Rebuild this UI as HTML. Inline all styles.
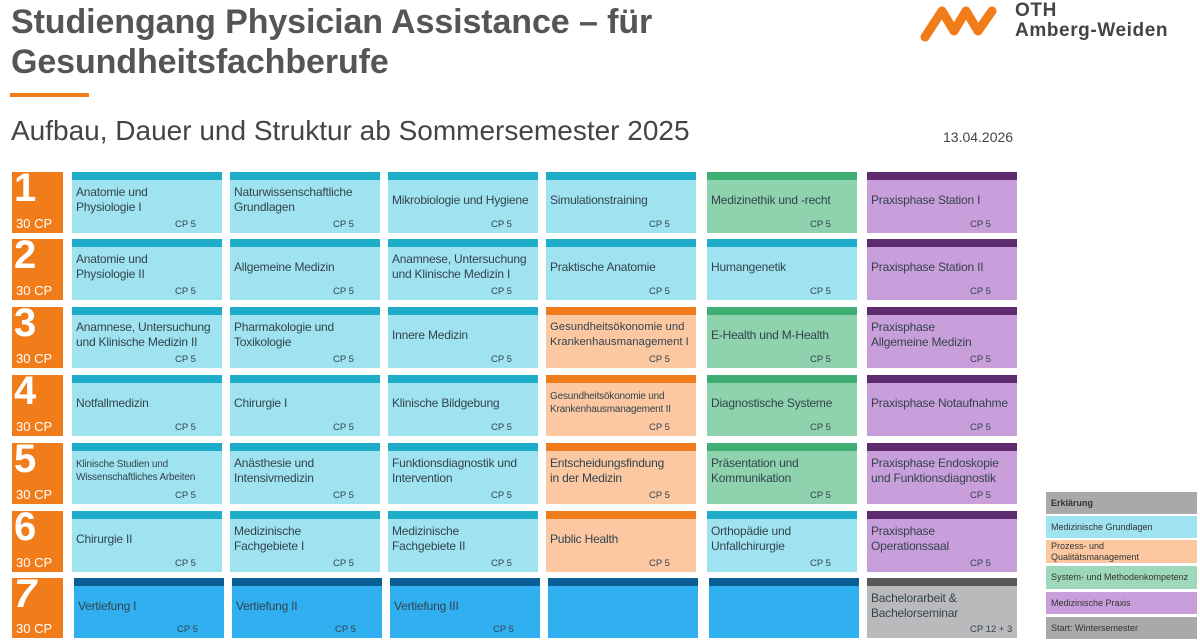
<!DOCTYPE html>
<html><head><meta charset="utf-8">
<style>
body{margin:0;width:1200px;height:641px;overflow:hidden;background:#fff;font-family:"Liberation Sans",sans-serif;position:relative}
.abs{position:absolute}
.cell{position:absolute;width:150px;box-sizing:border-box}
.cell .bar{position:absolute;left:0;top:0;right:0;height:8px}
.cell .t{position:absolute;left:4px;right:2px;font-size:12px;letter-spacing:-0.2px;line-height:15px;color:#33434c;display:flex;align-items:center}
.cell .cp{position:absolute;left:103px;bottom:3px;font-size:9.5px;color:#33434c}
.sem{position:absolute;left:12px;width:51px;background:#f07d1a;color:#fff}
.sem .n{position:absolute;left:2px;top:-6px;font-size:40px;font-weight:bold}
.sem .c{position:absolute;left:4px;bottom:2px;font-size:13px}
.leg{position:absolute;left:1046px;width:151px;font-size:9px;color:#333;box-sizing:border-box;padding-left:5px;display:flex;align-items:center;line-height:11px}
</style></head><body>
<div class="abs" style="left:11px;top:2px;font-size:34px;font-weight:bold;color:#555;line-height:40px;letter-spacing:-0.1px">Studiengang Physician Assistance – für<br>Gesundheitsfachberufe</div>
<div class="abs" style="left:10px;top:93px;width:79px;height:4px;background:#f07d1a"></div>
<div class="abs" style="left:11px;top:115px;font-size:28px;color:#444">Aufbau, Dauer und Struktur ab Sommersemester 2025</div>
<div class="abs" style="left:943px;top:129px;font-size:14px;color:#444">13.04.2026</div>
<svg class="abs" style="left:920px;top:4px" width="80" height="38" viewBox="0 0 80 38"><path d="M5 33 L22 7 L34 27 L46 7 L58 27 L72 7" fill="none" stroke="#f07d1a" stroke-width="9" stroke-linecap="round" stroke-linejoin="round"/></svg>
<div class="abs" style="left:1015px;top:1px;font-size:19px;font-weight:bold;color:#444;line-height:20px;letter-spacing:0.6px">OTH<br>Amberg-Weiden</div>
<div id="grid"></div>
<script>
const semesters=["1","2","3","4","5","6","7"];
const modules=[
["Anatomie und|Physiologie I","Naturwissenschaftliche|Grundlagen","Mikrobiologie und Hygiene","Simulationstraining","Medizinethik und -recht","Praxisphase Station I"],
["Anatomie und|Physiologie II","Allgemeine Medizin","Anamnese, Untersuchung|und Klinische Medizin I","Praktische Anatomie","Humangenetik","Praxisphase Station II"],
["Anamnese, Untersuchung|und Klinische Medizin II","Pharmakologie und|Toxikologie","Innere Medizin","Gesundheitsökonomie und|Krankenhausmanagement I","E-Health und M-Health","Praxisphase|Allgemeine Medizin"],
["Notfallmedizin","Chirurgie I","Klinische Bildgebung","Gesundheitsökonomie und|Krankenhausmanagement II","Diagnostische Systeme","Praxisphase Notaufnahme"],
["Klinische Studien und|Wissenschaftliches Arbeiten","Anästhesie und|Intensivmedizin","Funktionsdiagnostik und|Intervention","Entscheidungsfindung|in der Medizin","Präsentation und|Kommunikation","Praxisphase Endoskopie|und Funktionsdiagnostik"],
["Chirurgie II","Medizinische|Fachgebiete I","Medizinische|Fachgebiete II","Public Health","Orthopädie und|Unfallchirurgie","Praxisphase|Operationssaal"],
["Vertiefung I","Vertiefung II","Vertiefung III","","","Bachelorarbeit &|Bachelorseminar"]];
const types=[
["m","m","m","m","s","p"],["m","m","m","m","m","p"],["m","m","m","q","s","p"],["m","m","m","q","s","p"],["m","m","m","q","s","p"],["m","m","m","q","m","p"],["v","v","v","v","v","g"]];
const credits=[[5,5,5,5,5,5],[5,5,5,5,5,5],[5,5,5,5,5,5],[5,5,5,5,5,5],[5,5,5,5,5,5],[5,5,5,5,5,5],[5,5,5,null,null,"12 + 3"]];
const colors={m:["#9fe3f0","#1eadc8"],q:["#fbc8a2","#f07c1c"],s:["#8fd3ae","#3fae73"],p:["#c89fdb","#5e2a70"],v:["#30b0f0","#0a5f94"],g:["#bababc","#58585a"]};
const colX=[72,230,388,546,707,867];
const rowY=[172,239,307,375,443,511,578];
const g=document.getElementById('grid');
semesters.forEach((s,r)=>{
  const h=r==6?60:61;
  const sd=document.createElement('div');sd.className='sem';
  
  
  sd.style.top=rowY[r]+'px';sd.style.height=h+'px';
  sd.innerHTML='<span class="n"'+(r==6?' style="font-style:italic"':'')+'>'+s+'</span><span class="c">30 CP</span>';
  g.appendChild(sd);
  modules[r].forEach((m,c)=>{
    const col=colors[types[r][c]];
    const d=document.createElement('div');d.className='cell';
    
    
    d.style.left=(colX[c]+(r==6&&c<5?2:0))+'px';d.style.top=rowY[r]+'px';d.style.height=h+'px';d.style.background=col[0];
    let fs=(m.indexOf('Wissenschaftliches')>=0||m.indexOf('management II')>=0)?'font-size:10px;line-height:13px;letter-spacing:-0.2px;':'';
    if(m.indexOf('Gesundheitsökonomie und|Krankenhausmanagement I')===0&&m.indexOf('II')<0) fs='font-size:11.3px;letter-spacing:0;';
    d.innerHTML='<div class="bar" style="background:'+col[1]+'"></div><div class="t" style="top:10px;height:36px;'+fs+'"><div>'+m.replace('|','<br>')+'</div></div>'+(credits[r][c]!=null?'<div class="cp">CP '+credits[r][c]+'</div>':'');
    g.appendChild(d);
  });
});
const legend=[["Erklärung","#a9a9ab",492,22,true],["Medizinische Grundlagen","#9fe3f0",516,22],["Prozess- und<br>Qualitätsmanagement","#fbc8a2",540,23],["System- und Methodenkompetenz","#9ed8ba",566,23],["Medizinische Praxis","#c89fdb",592,22],["Start: Wintersemester","#a9a9ab",617,22]];
legend.forEach(l=>{
  const d=document.createElement('div');d.className='leg';
  
  
  d.style.top=l[2]+'px';d.style.height=l[3]+'px';d.style.background=l[1];
  if(l[4])d.style.fontWeight='bold';
  d.innerHTML='<div>'+l[0]+'</div>';g.appendChild(d);
});
</script>
</body></html>
